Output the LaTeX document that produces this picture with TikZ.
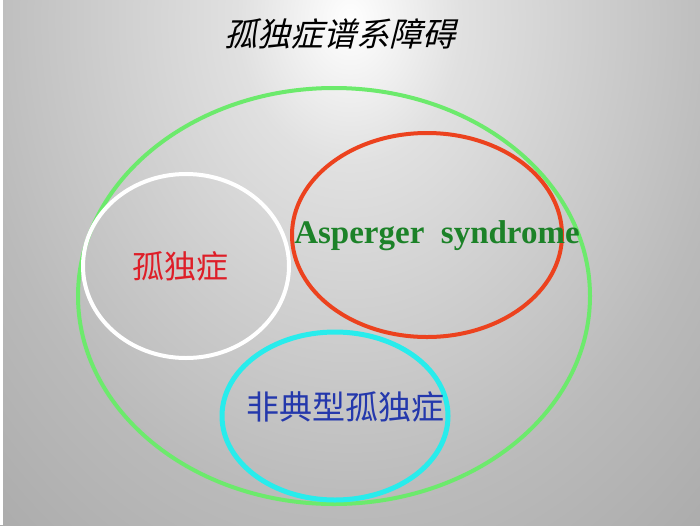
\documentclass[tikz,border=0pt]{standalone}
\usepackage{fontspec}
\setmainfont{Liberation Serif}
\newfontfamily\cjk{Noto Sans CJK SC}
\newfontfamily\cjkslant[FakeSlant=0.25]{Noto Sans CJK SC}
\definecolor{ringgreen}{RGB}{108,234,108}
\definecolor{ringred}{RGB}{236,66,30}
\definecolor{ringcyan}{RGB}{40,236,236}
\definecolor{txtred}{RGB}{222,30,40}
\definecolor{txtgreen}{RGB}{28,130,40}
\definecolor{txtblue}{RGB}{36,56,172}
\pgfdeclareradialshading{bgshade}{\pgfpoint{0bp}{0bp}}{color(0bp)=(white); color(5bp)=(black!12);
  color(17bp)=(black!27); color(30bp)=(black!38); color(43bp)=(black!46); color(50bp)=(black!50)}

\begin{document}
\begin{tikzpicture}[x=1pt, y=-1pt,
  ring/.style={line width=4pt},
  lbl/.style={inner sep=0pt}]
% background
\useasboundingbox (0,0) rectangle (700,525);
\begin{scope}
  \clip (0,0) rectangle (700,525);
  \fill[black!50] (0,0) rectangle (700,525);
  \shade[shading=bgshade] (350,20) ellipse [x radius=562pt, y radius=720pt];
\end{scope}
\fill[white] (0,0) rectangle (3,525);
% the rings
\draw[ring, ringgreen] (334,296) ellipse [x radius=256pt, y radius=208pt];
\draw[ring, white] (186,266) ellipse [x radius=103pt, y radius=92pt];
\draw[ring, ringred] (427,235) ellipse [x radius=135pt, y radius=102pt];
\draw[ring, ringcyan, line width=5pt] (335,416) ellipse [x radius=113pt, y radius=84pt];
% labels
\node[lbl] (title) at (340,34) {\cjkslant\fontsize{33}{33}\selectfont 孤独症谱系障碍};
\node[lbl, text=txtred] (autism) at (180,266) {\cjk\fontsize{32}{32}\selectfont 孤独症};
\node[lbl, anchor=base, text=txtgreen] (asperger) at (437,243)
  {\bfseries\fontsize{33}{33}\selectfont Asperger\ \ syndrome};
\node[lbl, text=txtblue] (atypical) at (345,407) {\cjk\fontsize{33}{33}\selectfont 非典型孤独症};
\end{tikzpicture}
\end{document}
